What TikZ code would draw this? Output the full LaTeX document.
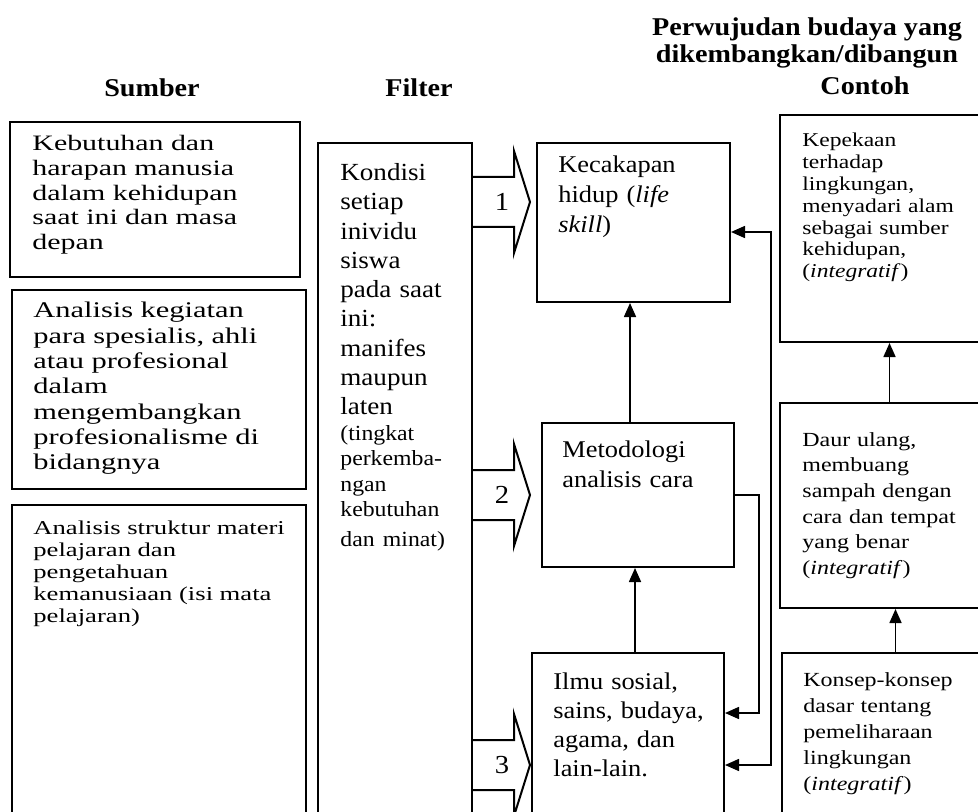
\documentclass[tikz,border=0pt]{standalone}
\usepackage{fontspec}
\setmainfont{Liberation Serif}[FakeStretch=1.1]
\newfontfamily\widefont{Liberation Serif}[FakeStretch=1.36]
\newfontfamily\midfont{Liberation Serif}[FakeStretch=1.2]
\usepackage{tikz}
\usetikzlibrary{arrows.meta,positioning,calc,fit}

\begin{document}
\begin{tikzpicture}[
    x=0.5pt,y=-0.5pt,
    box/.style={draw,line width=1pt,inner sep=0pt},
    txt/.style={inner sep=0pt,anchor=north west,align=left,text width=160pt},
    ttl/.style={inner sep=0pt,font=\bfseries\fontsize{12.8}{13.75}\selectfont},
    blk/.style={line width=1pt,line join=miter},
    num/.style={inner sep=0pt,font=\fontsize{13}{15}\selectfont},
    arr/.style={-{Triangle[length=7pt,width=6pt]},line width=0.8pt},
    arrboth/.style={{Triangle[length=7pt,width=6pt]}-{Triangle[length=7pt,width=6pt]},line width=0.8pt}
  ]
  \useasboundingbox (0,0) rectangle (978,812);
  \clip (0,0) rectangle (978,812);

  % judul kolom
  \node[ttl,anchor=base] (t-sumber) at (152,97) {Sumber};
  \node[ttl,anchor=base] (t-filter) at (419,97) {Filter};
  \node[ttl,anchor=north,align=center] (t-wujud) at (807,17) {Perwujudan budaya yang\\dikembangkan/dibangun};
  \node[ttl,anchor=base] (t-contoh) at (865,95) {Contoh};

  % kotak
  \foreach \nm/\xa/\ya/\xb/\yb in {sb1/10/122/300/277,sb2/12/290/306/489,sb3/12/505/306/840,
      flt/318/143/472/840,kec/537/143/730/302,met/542/423/734/567,ilm/532/653/724/840,
      kep/780/115/995/342,daur/780/403/995/608,kon/782/653/995/840}{
    \node[box,fit={(\xa,\ya) (\xb,\yb)}] (\nm) {};
  }

  % isi kotak
  \node[txt,font=\widefont\fontsize{11}{12.35}\selectfont] (sb1-t) at (32,135)
    {Kebutuhan dan\\harapan manusia\\dalam kehidupan\\saat ini dan masa\\depan};
  \node[txt,font=\widefont\fontsize{11.2}{12.65}\selectfont] (sb2-t) at (33,302)
    {Analisis kegiatan\\para spesialis, ahli\\atau profesional\\dalam\\mengembangkan\\profesionalisme di\\bidangnya};
  \node[txt,font=\widefont\fontsize{9.8}{11}\selectfont] (sb3-t) at (33,520)
    {Analisis struktur materi\\pelajaran dan\\pengetahuan\\kemanusiaan (isi mata\\pelajaran)};
  \node[txt,font=\fontsize{12.3}{14.65}\selectfont] (flt-t) at (340,163)
    {Kondisi\\setiap\\inividu\\siswa\\pada saat\\ini:\\manifes\\maupun\\laten\par
     \fontsize{10.8}{12.75}\selectfont(tingkat\\perkemba-\\ngan\\kebutuhan\\dan minat)};
  \node[txt,font=\fontsize{12}{15}\selectfont] (kec-t) at (558,155)
    {Kecakapan\\hidup (\textit{life}\\\textit{skill})};
  \node[txt,font=\fontsize{12}{15}\selectfont] (met-t) at (562,440)
    {Metodologi\\analisis cara};
  \node[txt,font=\fontsize{12}{14.5}\selectfont] (ilm-t) at (553,672)
    {Ilmu sosial,\\sains, budaya,\\agama, dan\\lain-lain.};
  \node[txt,font=\midfont\fontsize{9.8}{10.9}\selectfont] (kep-t) at (802,133)
    {Kepekaan\\terhadap\\lingkungan,\\menyadari alam\\sebagai sumber\\kehidupan,\\(\textit{integratif})};
  \node[txt,font=\midfont\fontsize{10}{12.8}\selectfont] (daur-t) at (802,432)
    {Daur ulang,\\membuang\\sampah dengan\\cara dan tempat\\yang benar\\(\textit{integratif})};
  \node[txt,font=\midfont\fontsize{10}{13}\selectfont] (kon-t) at (803,672)
    {Konsep-konsep\\dasar tentang\\pemeliharaan\\lingkungan\\(\textit{integratif})};

  % panah blok dari filter
  \foreach \y/\n in {202/1,495/2,765/3}{
    \draw[blk] (472,\y-25) -- (514,\y-25) -- (514,\y-51) -- (530,\y)
      -- (514,\y+51) -- (514,\y+25) -- (472,\y+25);
    \node[num] (a\n) at (502,\y) {\n};
  }

  % panah penghubung
  \draw[arr] ([xshift=-4pt]met.north) -- ([xshift=-4pt]met.north |- kec.south);
  \draw[arr] ([xshift=3.5pt]ilm.north) -- ([xshift=3.5pt]ilm.north |- met.south);
  \draw[arr] (met.east) -- ++(24,0) |- ([yshift=-30.5pt]ilm.north east);
  \draw[arrboth] ([yshift=-45pt]kec.north east) -- ++(40,0) |- ([yshift=-56.5pt]ilm.north east);
  \draw[arr] ([xshift=1pt]daur.north) -- ([xshift=1pt]daur.north |- kep.south);
  \draw[arr] ([xshift=3.5pt]kon.north) -- ([xshift=3.5pt]kon.north |- daur.south);
\end{tikzpicture}
\end{document}
